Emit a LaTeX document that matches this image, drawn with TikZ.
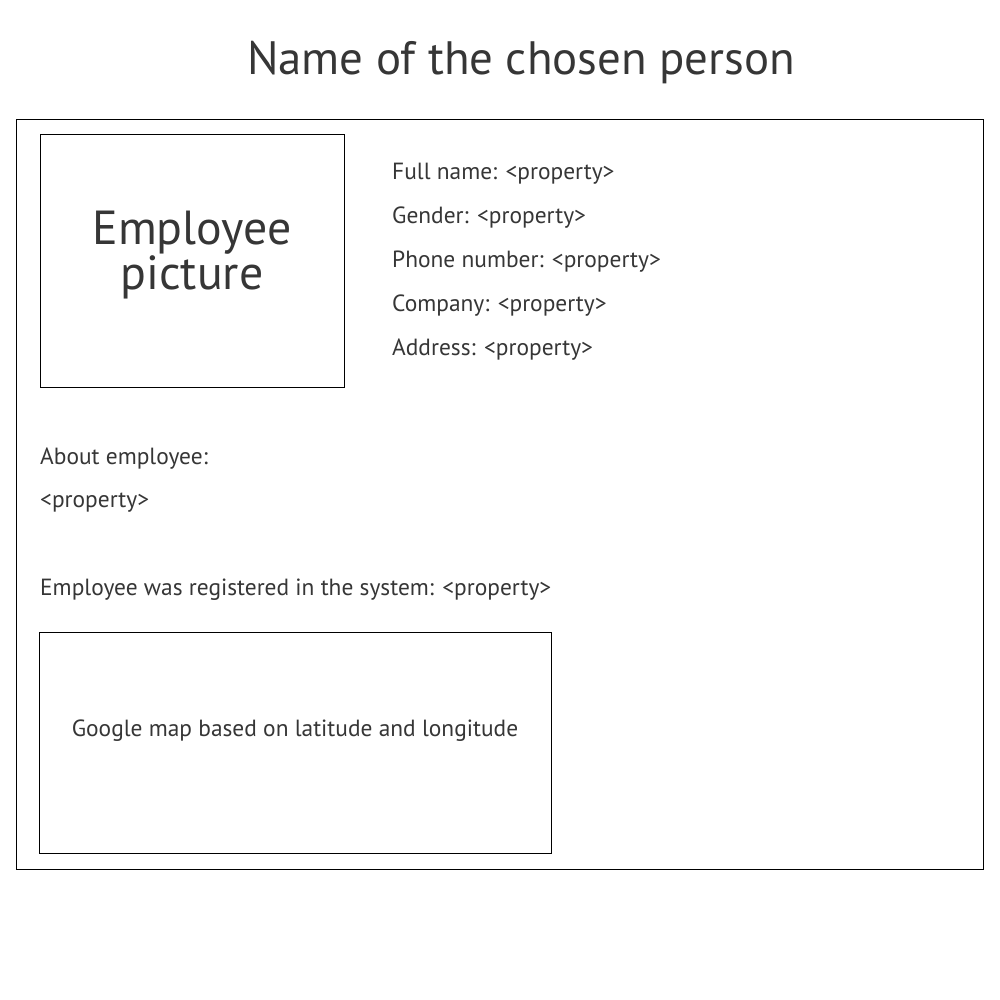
\documentclass[tikz,border=0pt]{standalone}
\usepackage{fontspec}
\setmainfont{PT Sans}
\definecolor{ink}{HTML}{363636}
\begin{document}
\begin{tikzpicture}[x=1bp,y=-1bp,
  frame/.style={draw=black,line width=1bp},
  lbl/.style={anchor=base west,inner sep=0pt,text=ink,font=\fontsize{23.5}{26}\selectfont},
  big/.style={inner sep=0pt,text=ink,font=\fontsize{48}{43.5}\selectfont,align=center}]
  \useasboundingbox[fill=white] (0,0) rectangle (1000,1000);
  % title
  \node[anchor=base,inner sep=0pt,text=ink,font=\fontsize{47}{50}\selectfont] (title) at (521,74) {Name of the chosen person};
  % card frame
  \draw[frame] (16,119) rectangle (983,869);
  % picture placeholder
  \node[frame,minimum width=304bp,minimum height=253bp,anchor=north west,inner sep=0pt] (pic) at (40,134) {};
  \node[big] (pictext) at (192,255) {Employee\\picture};
  % properties
  \node[lbl] (fullname) at (392,179) {Full name: <property>};
  \node[lbl] (gender) at (392,223) {Gender: <property>};
  \node[lbl] (phone) at (392,267) {Phone number: <property>};
  \node[lbl] (company) at (392,311) {Company: <property>};
  \node[lbl] (address) at (392,355) {Address: <property>};
  % about
  \node[lbl] (about) at (40,464) {About employee:};
  \node[lbl] (aboutval) at (40,507) {<property>};
  \node[lbl] (reg) at (40,595) {Employee was registered in the system: <property>};
  % map placeholder
  \node[frame,minimum width=512bp,minimum height=221bp,anchor=north west,inner sep=0pt] (map) at (39,632) {};
  \node[lbl,anchor=base] (maptext) at (295,736) {Google map based on latitude and longitude};
\end{tikzpicture}
\end{document}
